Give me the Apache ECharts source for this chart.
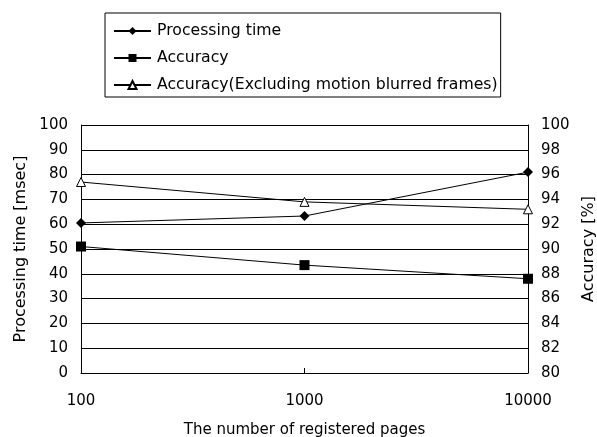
<!DOCTYPE html>
<html>
<head>
<meta charset="utf-8">
<script src="https://cdn.jsdelivr.net/npm/echarts@6/dist/echarts.min.js"></script>
<style>
html,body{margin:0;padding:0;background:#fff;}
#chart{width:597px;height:437px;}
</style>
</head>
<body>
<div id="chart"></div>
<script>
var categories = ['100', '1000', '10000'];
var processingTime = [60.5, 63.3, 81.0];
var accuracy = [90.2, 88.7, 87.6];
var accuracyExcl = [95.4, 93.8, 93.2];
var leftTicks = [0, 100, 10];
var rightTicks = [80, 100, 2];

var FONT = 'DejaVu Sans';
var chart = echarts.init(document.getElementById('chart'));
chart.setOption({
  animation: false,
  backgroundColor: '#fff',
  textStyle: {fontFamily: FONT, color: '#000'},
  legend: {
    orient: 'vertical',
    left: 105, top: 13,
    padding: [10, 3, 4, 8],
    itemWidth: 37, itemHeight: 10, itemGap: 11,
    borderColor: '#000', borderWidth: 1,
    textStyle: {fontFamily: FONT, fontSize: 15.7, color: '#000', padding: [0, 0, 0, 1]},
    data: ['Processing time', 'Accuracy', 'Accuracy(Excluding motion blurred frames)']
  },
  grid: {left: 81, right: 69, top: 125, bottom: 64, containLabel: false, outerBoundsMode: 'none'},
  xAxis: {
    type: 'category',
    data: categories,
    boundaryGap: false,
    name: 'The number of registered pages',
    nameLocation: 'middle',
    nameGap: 50,
    nameTextStyle: {fontFamily: FONT, fontSize: 15, color: '#000'},
    axisLine: {lineStyle: {color: '#000', width: 1}},
    axisTick: {inside: true, length: 5, lineStyle: {color: '#000'}},
    axisLabel: {fontFamily: FONT, fontSize: 15, color: '#000', margin: 21},
    splitLine: {show: false}
  },
  yAxis: [{
    type: 'value',
    min: leftTicks[0], max: leftTicks[1], interval: leftTicks[2],
    name: 'Processing time [msec]',
    nameLocation: 'middle',
    nameGap: 51,
    nameTextStyle: {fontFamily: FONT, fontSize: 16, color: '#000'},
    axisLine: {show: true, lineStyle: {color: '#000', width: 1}},
    axisTick: {show: false},
    axisLabel: {fontFamily: FONT, fontSize: 15, color: '#000', margin: 13},
    splitLine: {show: true, lineStyle: {color: '#000', width: 1}}
  }, {
    type: 'value',
    position: 'right',
    min: rightTicks[0], max: rightTicks[1], interval: rightTicks[2],
    name: 'Accuracy [%]',
    nameLocation: 'middle',
    nameGap: 53,
    nameRotate: 90,
    nameTextStyle: {fontFamily: FONT, fontSize: 16, color: '#000'},
    axisLine: {show: true, lineStyle: {color: '#000', width: 1}},
    axisTick: {show: false},
    axisLabel: {fontFamily: FONT, fontSize: 15, color: '#000', margin: 13},
    splitLine: {show: false}
  }],
  series: [{
    name: 'Processing time',
    type: 'line',
    yAxisIndex: 0,
    data: processingTime,
    symbol: 'diamond', symbolSize: 10,
    lineStyle: {color: '#000', width: 1},
    itemStyle: {color: '#000'}
  }, {
    name: 'Accuracy',
    type: 'line',
    yAxisIndex: 1,
    data: accuracy,
    symbol: 'rect', symbolSize: 10,
    lineStyle: {color: '#000', width: 1},
    itemStyle: {color: '#000'}
  }, {
    name: 'Accuracy(Excluding motion blurred frames)',
    type: 'line',
    yAxisIndex: 1,
    data: accuracyExcl,
    symbol: 'triangle', symbolSize: 9,
    lineStyle: {color: '#000', width: 1},
    itemStyle: {color: '#fff', borderColor: '#000', borderWidth: 1}
  }]
});
</script>
</body>
</html>
